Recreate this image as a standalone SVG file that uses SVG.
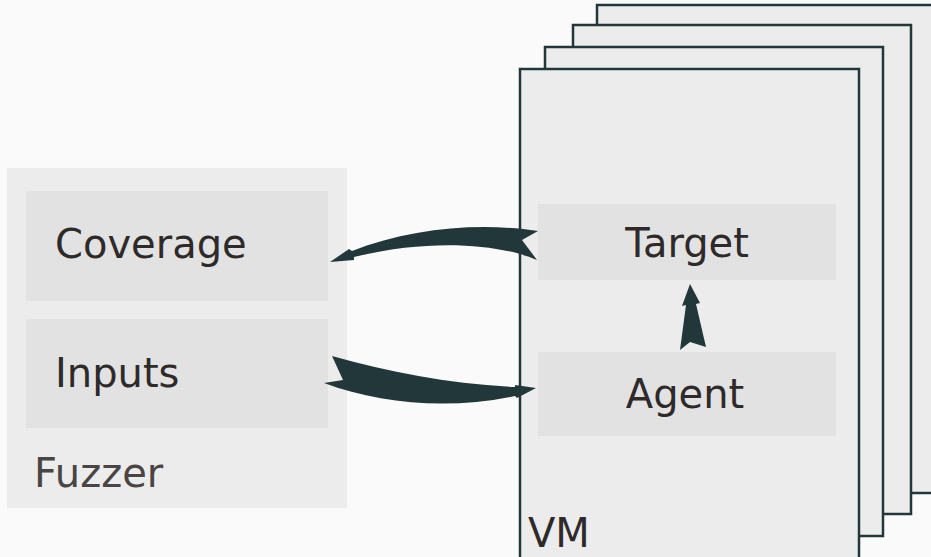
<svg xmlns="http://www.w3.org/2000/svg" width="931" height="557" viewBox="0 0 931 557">
<style>
.bg{fill:#fafafa}
.cont{fill:#ececec}
.vm{fill:#ececec;stroke:#22373a;stroke-width:2.5}
.inner{fill:#e2e2e2}
.lbl{font-family:"DejaVu Sans",sans-serif;font-size:40px;fill:#2f2a2a}
.clbl{font-family:"DejaVu Sans",sans-serif;font-size:40px;fill:#4a4444}
.arr{fill:#22373a}
</style>
<rect class="bg" x="0" y="0" width="931" height="557"/>
<g id="fuzzer">
<rect class="cont" x="7" y="168" width="340" height="340"/>
<text class="clbl" x="34" y="487">Fuzzer</text>
</g>
<g id="coverage">
<rect class="inner" x="26" y="191" width="302" height="110"/>
<text class="lbl" x="55" y="258">Coverage</text>
</g>
<g id="inputs">
<rect class="inner" x="26" y="319" width="302" height="109"/>
<text class="lbl" x="55" y="387">Inputs</text>
</g>
<g id="vm">
<rect class="vm" x="597" y="5" width="340" height="488"/>
<rect class="vm" x="573" y="25" width="338" height="489"/>
<rect class="vm" x="545" y="47" width="338" height="489"/>
<rect class="vm" x="520" y="69" width="339" height="492"/>
<text class="lbl" x="528" y="547">VM</text>
</g>
<g id="target">
<rect class="inner" x="538" y="204" width="298" height="76"/>
<text class="lbl" x="687" y="257" text-anchor="middle">Target</text>
</g>
<g id="agent">
<rect class="inner" x="538" y="352" width="298" height="84"/>
<text class="lbl" x="685" y="408" text-anchor="middle">Agent</text>
</g>
<g id="connectors">
<path class="arr" d="M538,231 L522,240 L537,260 C500,244 430,238 354,257 L354,260 L330,262 L349,249 L352,251 C410,228 480,222 538,231 Z"/>
<path class="arr" d="M332,356 C390,372 450,384 515,387 L515,385 L536,388 L517,398 L515,396 C450,410 380,404 324,383 L343,380 Z"/>
<path class="arr" d="M690,284 L682,306 L686,305 L680,350 L690,342 L706,347 L696,304 L700,303 Z"/>
</g>
</svg>
